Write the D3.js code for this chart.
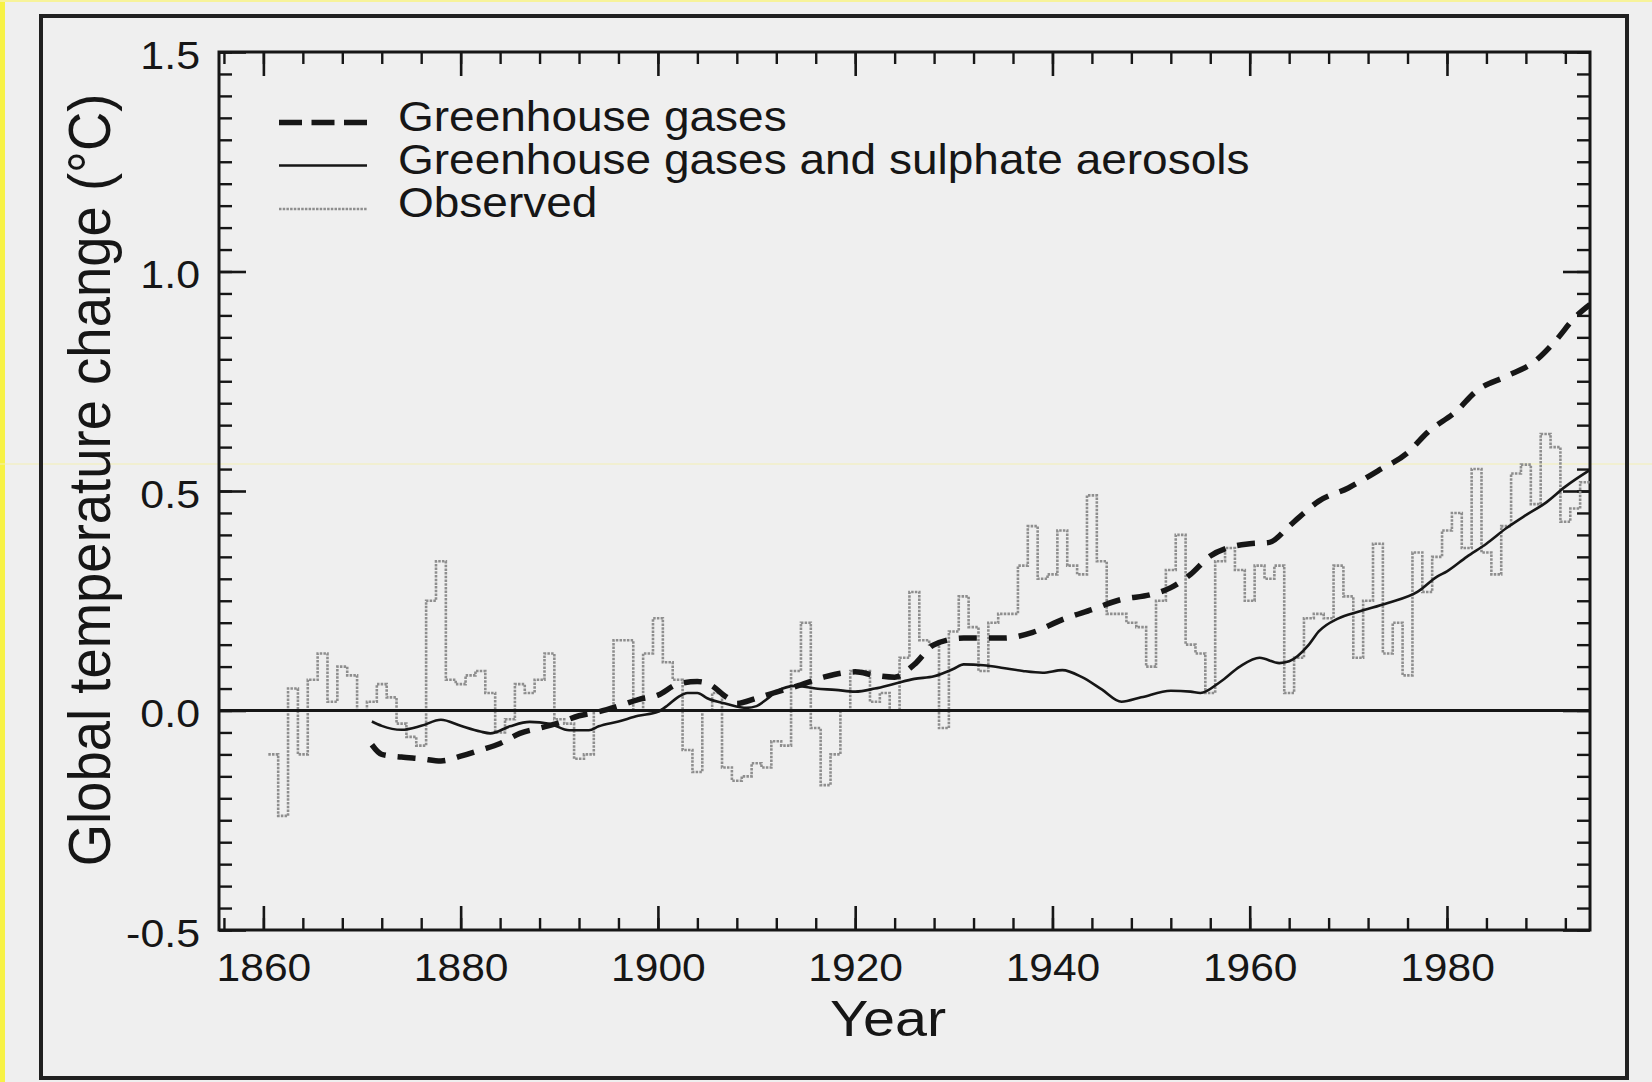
<!DOCTYPE html>
<html><head><meta charset="utf-8">
<script src="https://cdn.jsdelivr.net/npm/d3@7"></script>
<style>
html,body{margin:0;padding:0;background:#efefef;}
svg{display:block;}
</style></head><body>
<svg id="chart" width="1652" height="1082"></svg>
<script>
// ---------------- data ----------------
const xTickLabels = [1860, 1880, 1900, 1920, 1940, 1960, 1980];
const yTickValues = [-0.5, 0.0, 0.5, 1.0, 1.5];
const yTickLabels = ["-0.5", "0.0", "0.5", "1.0", "1.5"];
const seriesNames = ["Greenhouse gases", "Greenhouse gases and sulphate aerosols", "Observed"];
const xTitle = "Year";
const yTitle = "Global temperature change (\u00B0C)";

// observed annual anomalies, one per year starting 1861
const observedStartYear = 1861;
const observedValues = [
  -0.10, -0.24, 0.05, -0.10, 0.07, 0.13, 0.02, 0.10, 0.08, 0.00,   // 1861-1870
   0.02, 0.06, 0.03, -0.03, -0.06, -0.08, 0.25, 0.34, 0.07, 0.06,  // 1871-1880
   0.08, 0.09, 0.04, -0.05, -0.02, 0.06, 0.04, 0.07, 0.13, -0.02,  // 1881-1890
  -0.03, -0.11, -0.10, 0.00, 0.00, 0.16, 0.16, 0.00, 0.13, 0.21,   // 1891-1900
   0.11, 0.07, -0.09, -0.14, 0.00, 0.04, -0.13, -0.16, -0.15, -0.12, // 1901-1910
  -0.13, -0.07, -0.08, 0.09, 0.20, -0.04, -0.17, -0.10, 0.00, 0.09, // 1911-1920
   0.09, 0.02, 0.04, 0.00, 0.12, 0.27, 0.16, 0.15, -0.04, 0.18,    // 1921-1930
   0.26, 0.19, 0.09, 0.20, 0.22, 0.22, 0.33, 0.42, 0.30, 0.31,     // 1931-1940
   0.41, 0.33, 0.31, 0.49, 0.34, 0.22, 0.22, 0.20, 0.19, 0.10,     // 1941-1950
   0.25, 0.32, 0.40, 0.15, 0.13, 0.04, 0.34, 0.37, 0.32, 0.25,     // 1951-1960
   0.33, 0.30, 0.33, 0.04, 0.12, 0.21, 0.22, 0.21, 0.33, 0.26,     // 1961-1970
   0.12, 0.25, 0.38, 0.13, 0.20, 0.08, 0.36, 0.27, 0.35, 0.41,     // 1971-1980
   0.45, 0.37, 0.55, 0.36, 0.31, 0.42, 0.54, 0.56, 0.47, 0.63,     // 1981-1990
   0.60, 0.43, 0.46, 0.52                                          // 1991-1994
];

// model: greenhouse gases only
const ghgYears  = [1871, 1872, 1874, 1876, 1878, 1880, 1882, 1884, 1886, 1888, 1890, 1892, 1894, 1896, 1898, 1900,
                   1902, 1904, 1905, 1907, 1908, 1910, 1912, 1914, 1917, 1920, 1922, 1924, 1926, 1928, 1931, 1935,
                   1938, 1941, 1944, 1947, 1950, 1952, 1954, 1956, 1958, 1960, 1962, 1964, 1965, 1967, 1970, 1973,
                   1976, 1978, 1981, 1983, 1986, 1989, 1991, 1993, 1994.5];
const ghgValues = [-0.078, -0.100, -0.106, -0.110, -0.115, -0.104, -0.090, -0.075, -0.052, -0.040, -0.028, -0.012, -0.003, 0.010, 0.025, 0.035,
                    0.060, 0.066, 0.062, 0.030, 0.016, 0.028, 0.042, 0.055, 0.077, 0.088, 0.080, 0.076, 0.105, 0.150, 0.165, 0.165,
                    0.178, 0.207, 0.230, 0.253, 0.264, 0.280, 0.310, 0.352, 0.372, 0.380, 0.383, 0.420, 0.440, 0.477, 0.507, 0.546,
                    0.587, 0.633, 0.683, 0.728, 0.761, 0.797, 0.842, 0.896, 0.925];

// model: greenhouse gases and sulphate aerosols
const aerYears  = [1871, 1872, 1874, 1876, 1878, 1880, 1882, 1883, 1885, 1887, 1889, 1891, 1893, 1894, 1896, 1898,
                   1900, 1901, 1902, 1903, 1904, 1905, 1907, 1909, 1910, 1911, 1912, 1914, 1916, 1918, 1920, 1922,
                   1924, 1926, 1928, 1930, 1931, 1933, 1935, 1937, 1939, 1941, 1943, 1945, 1947, 1949, 1952, 1954,
                   1955, 1957, 1959, 1961, 1963, 1964, 1966, 1967, 1969, 1971, 1974, 1977, 1979, 1980, 1982, 1984,
                   1986, 1988, 1990, 1992, 1994.5];
const aerValues = [-0.025, -0.035, -0.044, -0.035, -0.021, -0.035, -0.048, -0.052, -0.036, -0.026, -0.030, -0.045, -0.045, -0.036, -0.025, -0.012,
                   -0.003, 0.012, 0.030, 0.040, 0.040, 0.028, 0.015, 0.006, 0.010, 0.025, 0.043, 0.056, 0.050, 0.047, 0.043, 0.050,
                    0.061, 0.072, 0.078, 0.095, 0.105, 0.103, 0.097, 0.090, 0.086, 0.092, 0.076, 0.048, 0.020, 0.030, 0.045, 0.043,
                    0.040, 0.065, 0.100, 0.120, 0.108, 0.112, 0.150, 0.180, 0.210, 0.225, 0.245, 0.270, 0.305, 0.317, 0.350, 0.380,
                    0.415, 0.445, 0.473, 0.510, 0.548];

// ---------------- drawing ----------------
const W = 1652, H = 1082;
const FONT = "'Liberation Sans', Arial, Helvetica, sans-serif";
const INK = "#161616";
const svg = d3.select("#chart");

svg.append("rect").attr("width", W).attr("height", H).attr("fill", "#efefef");
// scan artefacts of the reference
svg.append("rect").attr("x", 0).attr("y", 0).attr("width", 5).attr("height", H).attr("fill", "#f7f245");
svg.append("rect").attr("x", 0).attr("y", 0).attr("width", W).attr("height", 2).attr("fill", "#f7f39a");
svg.append("rect").attr("x", 0).attr("y", 463.5).attr("width", W).attr("height", 1).attr("fill", "#f4efb4");
// outer frame
svg.append("rect").attr("x", 41).attr("y", 16).attr("width", 1586).attr("height", 1062)
  .attr("fill", "none").attr("stroke", "#202020").attr("stroke-width", 4);

const x = d3.scaleLinear().domain([1855.5, 1994.5]).range([219, 1590]);
const y = d3.scaleLinear().domain([-0.5, 1.5]).range([930, 52]);
const [x0, x1] = x.range();
const [yB, yT] = y.range();

const xMinor = d3.range(1856, 1995, 4);
const yMinor = d3.range(-10, 31).map(i => +(i * 0.05).toFixed(2));

function styleAxis(g, sw) {
  g.select(".domain").remove();
  g.selectAll("line").attr("stroke", INK).attr("stroke-width", sw);
  g.attr("font-family", FONT);
}

// bottom
svg.append("g").attr("transform", `translate(0,${yB})`)
  .call(d3.axisBottom(x).tickValues(xMinor).tickSize(-12).tickFormat(""))
  .call(g => styleAxis(g, 2.4));
const gxB = svg.append("g").attr("transform", `translate(0,${yB})`)
  .call(d3.axisBottom(x).tickValues(xTickLabels).tickSize(-24).tickPadding(24).tickFormat(d3.format("d")))
  .call(g => styleAxis(g, 2.6));
gxB.selectAll("text").attr("font-size", 38).attr("fill", INK)
  .attr("transform", "scale(1.12,1)");
// top
svg.append("g").attr("transform", `translate(0,${yT})`)
  .call(d3.axisTop(x).tickValues(xMinor).tickSize(-12).tickFormat(""))
  .call(g => styleAxis(g, 2.4));
svg.append("g").attr("transform", `translate(0,${yT})`)
  .call(d3.axisTop(x).tickValues(xTickLabels).tickSize(-24).tickFormat(""))
  .call(g => styleAxis(g, 2.6));
// left
svg.append("g").attr("transform", `translate(${x0},0)`)
  .call(d3.axisLeft(y).tickValues(yMinor).tickSize(-13).tickFormat(""))
  .call(g => styleAxis(g, 2.4));
const gyL = svg.append("g").attr("transform", `translate(${x0},0)`)
  .call(d3.axisLeft(y).tickValues(yTickValues).tickSize(-27).tickPadding(19)
    .tickFormat((d, i) => yTickLabels[i]))
  .call(g => styleAxis(g, 2.6));
gyL.selectAll("text").attr("font-size", 39).attr("fill", INK)
  .attr("dy", "0.42em").attr("x", -19 / 1.1).attr("transform", "scale(1.1,1)");
// right
svg.append("g").attr("transform", `translate(${x1},0)`)
  .call(d3.axisRight(y).tickValues(yMinor).tickSize(-13).tickFormat(""))
  .call(g => styleAxis(g, 2.4));
svg.append("g").attr("transform", `translate(${x1},0)`)
  .call(d3.axisRight(y).tickValues(yTickValues).tickSize(-27).tickFormat(""))
  .call(g => styleAxis(g, 2.6));

// plot box
svg.append("rect").attr("x", x0).attr("y", yT).attr("width", x1 - x0).attr("height", yB - yT)
  .attr("fill", "none").attr("stroke", INK).attr("stroke-width", 3);

// clip
svg.append("clipPath").attr("id", "plotclip").append("rect")
  .attr("x", x0).attr("y", yT).attr("width", x1 - x0).attr("height", yB - yT);
const plot = svg.append("g").attr("clip-path", "url(#plotclip)");

// observed (annual steps centred on each year)
const obsPts = observedValues.map((v, i) => [observedStartYear + i - 0.5, v]);
obsPts.push([observedStartYear + observedValues.length - 0.5, observedValues[observedValues.length - 1]]);
const obsStyle = {stroke: "#8e8e8e", width: 2.6, dash: "2.5,1.2"};
plot.append("path").datum(obsPts)
  .attr("d", d3.line().x(d => x(d[0])).y(d => y(d[1])).curve(d3.curveStepAfter))
  .attr("fill", "none").attr("stroke", obsStyle.stroke).attr("stroke-width", obsStyle.width)
  .attr("stroke-dasharray", obsStyle.dash);

// zero line
plot.append("line").attr("x1", x0).attr("x2", x1).attr("y1", y(0)).attr("y2", y(0))
  .attr("stroke", INK).attr("stroke-width", 2.8);

// model curves
const smooth = d3.line().x(d => x(d[0])).y(d => y(d[1])).curve(d3.curveMonotoneX);
plot.append("path").datum(aerYears.map((yr, i) => [yr, aerValues[i]]))
  .attr("d", smooth).attr("fill", "none").attr("stroke", INK).attr("stroke-width", 2.6);
plot.append("path").datum(ghgYears.map((yr, i) => [yr, ghgValues[i]]))
  .attr("d", smooth).attr("fill", "none").attr("stroke", INK).attr("stroke-width", 5.5)
  .attr("stroke-dasharray", "18,12");

// legend
const legendStyles = [
  {stroke: INK, width: 5.5, dash: "23,9.5"},
  {stroke: INK, width: 2.6, dash: null},
  {stroke: obsStyle.stroke, width: 2.4, dash: obsStyle.dash}
];
const legBase = [130.5, 173.5, 217];
const leg = svg.append("g").attr("font-family", FONT);
seriesNames.forEach((name, i) => {
  leg.append("line").attr("x1", 279).attr("x2", 367)
    .attr("y1", legBase[i] - 8).attr("y2", legBase[i] - 8)
    .attr("stroke", legendStyles[i].stroke).attr("stroke-width", legendStyles[i].width)
    .attr("stroke-dasharray", legendStyles[i].dash);
  leg.append("text").attr("transform", `translate(398,${legBase[i]}) scale(1.07,1)`)
    .attr("font-size", 43).attr("fill", INK).text(name);
});

// axis titles
svg.append("text").attr("font-family", FONT).attr("font-size", 50).attr("fill", INK)
  .attr("text-anchor", "middle")
  .attr("transform", `translate(888,1036) scale(1.15,1)`).text(xTitle);
svg.append("text").attr("font-family", FONT).attr("font-size", 54.5).attr("fill", INK)
  .attr("text-anchor", "middle")
  .attr("transform", `translate(110,480) rotate(-90) scale(1,1.1)`).text(yTitle);
</script>
</body></html>
